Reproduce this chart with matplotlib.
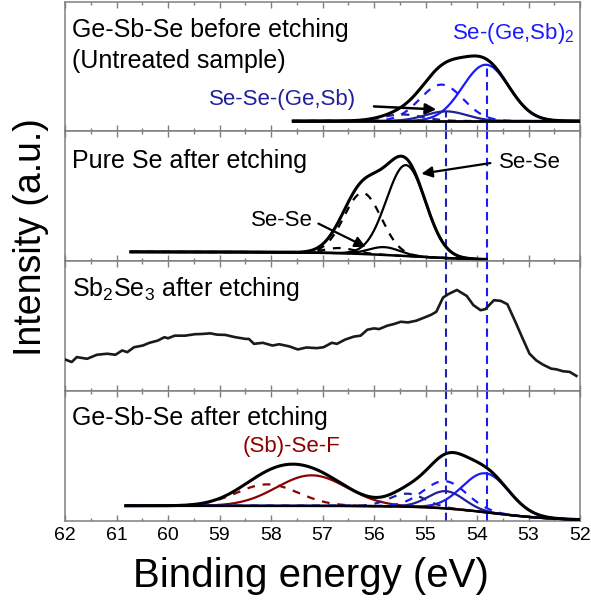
import numpy as np
import matplotlib
matplotlib.use("Agg")
import matplotlib.pyplot as plt

plt.rcParams['font.family'] = ['Liberation Sans', 'DejaVu Sans']
plt.rcParams['mathtext.fontset'] = 'custom'
plt.rcParams['mathtext.rm'] = 'Liberation Sans'
plt.rcParams['mathtext.it'] = 'Liberation Sans:italic'
plt.rcParams['mathtext.bf'] = 'Liberation Sans:bold'

# ---------------- data (binding energy in eV, intensity in a.u.) ----------------
# Panel 1: Ge-Sb-Se before etching (fitted Se 3d components)
p1_range = [57.57, 52.0]
p1_bg = 0.08
p1_center = [53.83, 54.69, 54.60, 55.45]
p1_height = [0.433, 0.28, 0.074, 0.05]
p1_width = [0.45, 0.42, 0.40, 0.40]
p1_color = ['#1a1aff', '#1a1aff', '#20209a', '#20209a']
p1_dashed = [False, True, False, True]

# Panel 2: Pure Se after etching
p2_range = [60.72, 53.82]
p2_bg = [0.005, 0.072, 55.3, 0.8]  # low, high, step centre, step width
p2_center = [55.38, 56.22, 55.80, 56.66]
p2_height = [0.70, 0.47, 0.06, 0.04]
p2_width = [0.38, 0.36, 0.30, 0.30]
p2_dashed = [False, True, False, True]

# Panel 3: Sb2Se3 after etching (measured spectrum)
p3_energy = [62.00, 61.87, 61.77, 61.57, 61.38, 61.18, 61.02, 60.89, 60.79, 60.66,
             60.49, 60.36, 60.20, 60.07, 60.00, 59.87, 59.67, 59.48, 59.34, 59.18,
             59.05, 58.89, 58.69, 58.49, 58.43, 58.33, 58.16, 57.97, 57.84, 57.64,
             57.48, 57.31, 57.11, 56.98, 56.82, 56.72, 56.56, 56.39, 56.26, 56.13,
             56.00, 55.90, 55.74, 55.61, 55.48, 55.34, 55.18, 55.02, 54.89, 54.79,
             54.66, 54.56, 54.39, 54.20, 54.07, 53.93, 53.84, 53.67, 53.54, 53.41,
             53.25, 53.11, 52.98, 52.85, 52.72, 52.56, 52.46, 52.33, 52.20, 52.07]
p3_intensity = [0.244, 0.224, 0.262, 0.249, 0.280, 0.288, 0.280, 0.313, 0.300, 0.338,
                0.351, 0.372, 0.389, 0.415, 0.407, 0.427, 0.427, 0.438, 0.440, 0.445,
                0.435, 0.433, 0.415, 0.402, 0.402, 0.364, 0.372, 0.351, 0.361, 0.344,
                0.321, 0.336, 0.331, 0.338, 0.372, 0.364, 0.397, 0.420, 0.427, 0.473,
                0.483, 0.478, 0.504, 0.517, 0.534, 0.529, 0.542, 0.567, 0.588, 0.611,
                0.720, 0.746, 0.779, 0.733, 0.662, 0.623, 0.631, 0.700, 0.695, 0.669,
                0.529, 0.402, 0.288, 0.237, 0.204, 0.173, 0.168, 0.153, 0.148, 0.117]

# Panel 4: Ge-Sb-Se after etching
p4_range = [60.82, 52.0]
p4_bg = [0.005, 0.117, 53.7, 0.6]
p4_center = [57.21, 58.07, 53.83, 54.62, 54.60, 55.35]
p4_height = [0.235, 0.165, 0.30, 0.21, 0.133, 0.10]
p4_width = [0.68, 0.60, 0.45, 0.42, 0.35, 0.35]
p4_color = ['#8b0000', '#8b0000', '#1a1aff', '#1a1aff', '#20209a', '#20209a']
p4_dashed = [False, True, False, True, False, True]

ref_lines = [54.6, 53.8]
ref_colors = ['#2020b0', '#1a1aff']

titles = ['Ge-Sb-Se before etching', 'Pure Se after etching',
          'Sb$_2$Se$_3$ after etching', 'Ge-Sb-Se after etching']

# ---------------- helpers ----------------
def gauss(e, c, h, w):
    return h * np.exp(-0.5 * ((e - c) / w) ** 2)

def step_bg(e, p):
    low, high, c, w = p
    return low + (high - low) / (1 + np.exp(-(e - c) / w))

DASH = (0, (3.5, 3.5))
VDASH = (0, (4, 2.5))
FRAME = '#7f7f7f'

fig = plt.figure(figsize=(5.91, 6.0), dpi=100)
axes = fig.subplots(4, 1, sharex=True)
fig.subplots_adjust(left=65/591, right=580/591, bottom=1-521/600, top=1-1.5/600, hspace=0)

for ax in axes:
    ax.set_xlim(62, 52)
    ax.set_ylim(0, 1)
    ax.set_yticks([])
    for s in ax.spines.values():
        s.set_color(FRAME)
        s.set_linewidth(1.1)
    ax.set_xticks(np.arange(52, 63, 1))
    ax.set_xticks(np.arange(52, 62.01, 0.5), minor=True)
    ax.tick_params(axis='x', which='both', direction='in', top=True, bottom=True,
                   color=FRAME, width=1.0, labelsize=14, pad=4)
    ax.tick_params(axis='x', which='major', length=4.5)
    ax.tick_params(axis='x', which='minor', length=2.5)

for ax in axes[:-1]:
    ax.tick_params(axis='x', which='both', labelbottom=False)

# ---- panel 1 ----
ax = axes[0]
e = np.linspace(p1_range[0], p1_range[1], 500)
bg = np.full_like(e, p1_bg)
env = bg.copy()
for c, h, w, col, d in zip(p1_center, p1_height, p1_width, p1_color, p1_dashed):
    comp = gauss(e, c, h, w)
    env += comp
    ax.plot(e, bg + comp, color=col, lw=1.6, ls=DASH if d else '-', zorder=3)
ax.plot(e, bg, color='k', lw=2.0, zorder=4)
ax.plot(e, env, color='k', lw=2.2, zorder=5)
ax.vlines(ref_lines[0], 0, p1_bg + p1_height[2], colors=ref_colors[0], lw=1.5, linestyles=VDASH, zorder=2)
ax.vlines(ref_lines[1], 0, p1_bg + p1_height[0], colors=ref_colors[1], lw=1.5, linestyles=VDASH, zorder=2)
ax.text(0.014, 0.777, titles[0], transform=ax.transAxes, fontsize=18, ha='left', va='center')
ax.text(0.014, 0.540, '(Untreated sample)', transform=ax.transAxes, fontsize=18, ha='left', va='center')
ax.text(52.1, 0.75, 'Se-(Ge,Sb)$_2$', color='#1a1aff', fontsize=16, ha='right', va='center')
ax.text(59.21, 0.246, 'Se-Se-(Ge,Sb)', color='#20209a', fontsize=16, ha='left', va='center')
ax.annotate('', xy=(54.79, 0.169), xytext=(56.0, 0.192),
            arrowprops=dict(arrowstyle='-|>', color='k', lw=1.8, mutation_scale=16,
                            shrinkA=0, shrinkB=0), zorder=6)

# ---- panel 2 ----
ax = axes[1]
e = np.linspace(p2_range[0], p2_range[1], 500)
bg = step_bg(e, p2_bg)
env = bg.copy()
for c, h, w, d in zip(p2_center, p2_height, p2_width, p2_dashed):
    comp = gauss(e, c, h, w)
    env += comp
    ax.plot(e, bg + comp, color='k', lw=1.6, ls=DASH if d else '-', zorder=3)
ax.plot(e, bg, color='k', lw=1.8, zorder=4)
ax.plot(e, env, color='k', lw=2.2, zorder=5)
for x, col in zip(ref_lines, ref_colors):
    ax.axvline(x, color=col, lw=1.5, ls=VDASH, zorder=2)
ax.text(0.014, 0.773, titles[1], transform=ax.transAxes, fontsize=18, ha='left', va='center')
ax.text(53.57, 0.758, 'Se-Se', fontsize=16, ha='left', va='center')
ax.annotate('', xy=(55.08, 0.674), xytext=(53.74, 0.756),
            arrowprops=dict(arrowstyle='-|>', color='k', lw=1.6, mutation_scale=16,
                            shrinkA=0, shrinkB=0), zorder=6)
ax.text(58.39, 0.315, 'Se-Se', fontsize=16, ha='left', va='center')
ax.annotate('', xy=(56.16, 0.11), xytext=(57.08, 0.29),
            arrowprops=dict(arrowstyle='-|>', color='k', lw=1.6, mutation_scale=16,
                            shrinkA=0, shrinkB=0), zorder=6)

# ---- panel 3 ----
ax = axes[2]
ax.plot(p3_energy, p3_intensity, color='#1a1a1a', lw=1.9, zorder=3)
for x, col in zip(ref_lines, ref_colors):
    ax.axvline(x, color=col, lw=1.5, ls=VDASH, zorder=2)
ax.text(0.014, 0.785, titles[2], transform=ax.transAxes, fontsize=18, ha='left', va='center')

# ---- panel 4 ----
ax = axes[3]
e = np.linspace(p4_range[0], p4_range[1], 600)
bg = step_bg(e, p4_bg)
env = bg.copy()
for c, h, w, col, d in zip(p4_center, p4_height, p4_width, p4_color, p4_dashed):
    comp = gauss(e, c, h, w)
    env += comp
    ax.plot(e, bg + comp, color=col, lw=1.6, ls=DASH if d else '-', zorder=3)
ax.plot(e, bg, color='k', lw=1.8, zorder=4)
ax.plot(e, env, color='k', lw=2.2, zorder=5)
for x, col in zip(ref_lines, ref_colors):
    ax.axvline(x, color=col, lw=1.5, ls=VDASH, zorder=2)
ax.text(0.014, 0.796, titles[3], transform=ax.transAxes, fontsize=18, ha='left', va='center')
ax.text(58.56, 0.573, '(Sb)-Se-F', color='#8b0000', fontsize=16, ha='left', va='center')

ax.tick_params(axis='x', which='major', labelbottom=True)

fig.text(311/591, 1-576/600, 'Binding energy (eV)', fontsize=29, ha='center', va='center')
fig.text(31/591, 1-237/600, 'Intensity (a.u.)', fontsize=27, rotation=90, ha='center', va='center')

fig.savefig('out.png', dpi=100)
